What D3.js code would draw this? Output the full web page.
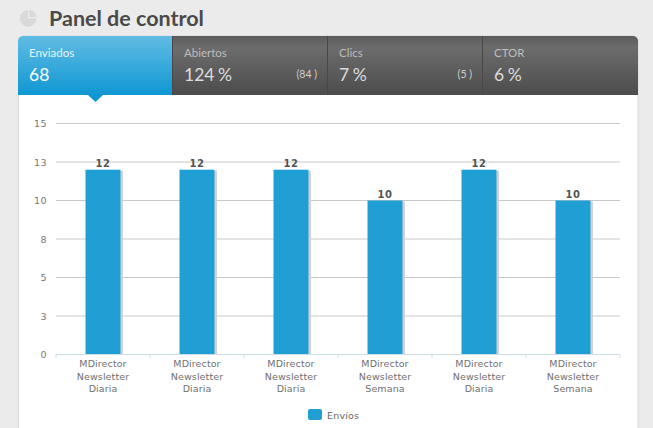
<!DOCTYPE html>
<html><head><meta charset="utf-8">
<script src="https://cdn.jsdelivr.net/npm/d3@7/dist/d3.min.js"></script>
<style>html,body{margin:0;padding:0;background:#ebebeb;overflow:hidden}svg{display:block}</style>
</head><body><svg id="c" width="653" height="428"></svg>
<script>
const categories=[["MDirector","Newsletter","Diaria"],["MDirector","Newsletter","Diaria"],["MDirector","Newsletter","Diaria"],["MDirector","Newsletter","Semana"],["MDirector","Newsletter","Diaria"],["MDirector","Newsletter","Semana"]];
const envios=[12,12,12,10,12,10];
const yTicks=[0,2.5,5,7.5,10,12.5,15];
const tabNames=["Enviados","Abiertos","Clics","CTOR"];
const tabValues=["68","124 %","7 %","6 %"];
const tabNotes=["","(84 )","(5 )",""];
const seriesName="Envíos";
const titleText="Panel de control";

const svg=d3.select("#c");
const defs=svg.append("defs");
const gb=defs.append("linearGradient").attr("id","gb").attr("x2",0).attr("y2",1);
gb.append("stop").attr("offset",0).attr("stop-color","#62bce4");
gb.append("stop").attr("offset",1).attr("stop-color","#0f97d2");
const gd=defs.append("linearGradient").attr("id","gd").attr("x2",0).attr("y2",1);
gd.append("stop").attr("offset",0).attr("stop-color","#5c5c5c");
gd.append("stop").attr("offset",.2).attr("stop-color","#6c6c6c");
gd.append("stop").attr("offset",1).attr("stop-color","#4c4c4c");
const fontT="Lato, sans-serif", fontA="'DejaVu Sans', sans-serif";

// title
const pie=d3.arc();
const ic=svg.append("g").attr("transform","translate(28,18.5)").attr("fill","#d9d9d9");
ic.append("path").attr("d",pie({innerRadius:0,outerRadius:8.2,startAngle:Math.PI/2,endAngle:Math.PI*2}));
ic.append("path").attr("d",pie({innerRadius:0,outerRadius:7,startAngle:0,endAngle:Math.PI/2})).attr("transform","translate(1.2,-1.6)");
svg.append("text").attr("x",49).attr("y",26).attr("font-family",fontT).attr("font-weight",700)
  .attr("font-size",21.5).attr("fill","#4a4a4a").text(titleText);

// card
svg.append("path").attr("d","M18.5,428V42a6,6 0 0 1 6,-6H632a6,6 0 0 1 6,6V428").attr("fill","#fff").attr("stroke","#d8d8d8");

// tabs
const tabX=d3.scaleOrdinal().domain(tabNames).range([18,172,327,482]);
const tabW=d3.scaleOrdinal().domain(tabNames).range([154,155,155,156]);
const tabs=svg.append("g");
tabNames.forEach((n,i)=>{
  const x=tabX(n),w=tabW(n);
  const g=tabs.append("g");
  let d;
  if(i===0) d=`M${x},95V41a5,5 0 0 1 5,-5H${x+w}V95Z`;
  else if(i===3) d=`M${x},36H633a5,5 0 0 1 5,5V95H${x}Z`;
  else d=`M${x},36H${x+w}V95H${x}Z`;
  g.append("path").attr("d",d).attr("fill",i===0?"url(#gb)":"url(#gd)");
  if(i>0) g.append("line").attr("x1",x+.5).attr("x2",x+.5).attr("y1",36).attr("y2",95).attr("stroke","#484848");
  g.append("text").attr("x",x+(i===0?11:12)).attr("y",57).attr("font-family",fontT).attr("font-size",11.5)
    .attr("fill",i===0?"#e6f5fc":"#bdbdbd").text(n);
  g.append("text").attr("x",x+(i===0?11:12)).attr("y",81).attr("font-family",fontT).attr("font-weight",400)
    .attr("font-size",17.5).attr("word-spacing",-1).attr("fill",i===0?"#fff":"#dcdcdc").text(tabValues[i]);
  if(tabNotes[i]) g.append("text").attr("x",x+w-10).attr("y",78).attr("text-anchor","end")
    .attr("font-family",fontT).attr("font-size",10.5).attr("fill","#cfcfcf").text(tabNotes[i]);
});
svg.append("path").attr("d","M88,95H103L95.5,102Z").attr("fill","#0f97d2");

// chart
const x=d3.scaleBand().domain(d3.range(categories.length)).range([56,620]);
const y=d3.scaleLinear().domain([0,15]).range([354.5,123.5]);
const bw=35;

const gy=svg.append("g");
gy.selectAll("line").data(yTicks.filter(t=>t>0)).join("line")
  .attr("x1",56).attr("x2",620).attr("y1",d=>y(d)).attr("y2",d=>y(d)).attr("stroke","#c8c8c8");
gy.selectAll("text").data(yTicks).join("text")
  .attr("x",47).attr("y",d=>y(d)+3.5).attr("text-anchor","end").attr("font-family",fontA)
  .attr("font-size",9.5).attr("letter-spacing",.4).attr("fill","#777").text(d=>Math.round(d));

svg.append("g").selectAll("rect").data(envios).join("rect")
  .attr("x",(d,i)=>x(i)+x.bandwidth()/2-bw/2+2).attr("width",bw+.5)
  .attr("y",d=>y(d)+1).attr("height",d=>y(0)-y(d)-1).attr("fill","#d2d2d2");
svg.append("g").selectAll("rect").data(envios).join("rect")
  .attr("x",(d,i)=>x(i)+x.bandwidth()/2-bw/2).attr("width",bw)
  .attr("y",d=>y(d)).attr("height",d=>y(0)-y(d)).attr("fill","#1f9fd3");
svg.append("g").selectAll("text").data(envios).join("text")
  .attr("x",(d,i)=>x(i)+x.bandwidth()/2).attr("y",d=>y(d)-2.5).attr("text-anchor","middle")
  .attr("font-family",fontA).attr("font-weight",700).attr("font-size",10).attr("letter-spacing",.5)
  .attr("fill","#555").text(d=>d);

// x axis
svg.append("line").attr("x1",56).attr("x2",620).attr("y1",354.5).attr("y2",354.5).attr("stroke","#cddde8");
svg.append("g").selectAll("line").data(d3.range(categories.length+1)).join("line")
  .attr("x1",i=>i<categories.length?x(i):620).attr("x2",i=>i<categories.length?x(i):620)
  .attr("y1",354.5).attr("y2",358).attr("stroke","#cddde8");
const labs=svg.append("g").selectAll("text").data(categories).join("text")
  .attr("text-anchor","middle").attr("font-family",fontA).attr("font-size",9.5)
  .attr("letter-spacing",.1).attr("fill","#707070");
labs.selectAll("tspan").data((d,i)=>d.map(t=>({t,i}))).join("tspan")
  .attr("x",d=>x(d.i)+x.bandwidth()/2).attr("y",(d,j)=>367+j*12.5).text(d=>d.t);

// legend
svg.append("rect").attr("x",308).attr("y",409).attr("width",14).attr("height",11).attr("rx",2).attr("fill","#1f9fd3");
svg.append("text").attr("x",327).attr("y",419).attr("font-family",fontA).attr("font-size",9.5)
  .attr("letter-spacing",.2).attr("fill","#666").text(seriesName);
</script></body></html>
